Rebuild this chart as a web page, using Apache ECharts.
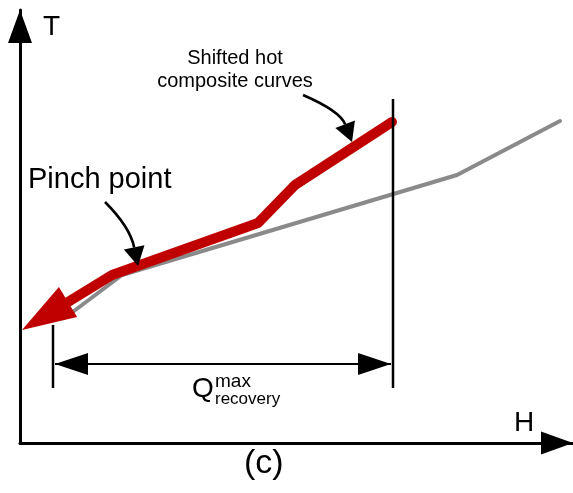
<!DOCTYPE html>
<html><head><meta charset="utf-8">
<script src="https://cdn.jsdelivr.net/npm/echarts@6/dist/echarts.min.js"></script>
<style>html,body{margin:0;padding:0;background:#fff}#c{width:573px;height:493px}</style>
</head><body><div id="c"></div>
<script>
// Axis domains (enthalpy H, temperature T, arbitrary units)
const hRange = [0, 553];
const tRange = [0, 433];
// Cold composite curve (gray)
const coldH = [46, 102, 437, 540];
const coldT = [126, 168, 268, 322];
// Shifted hot composite curve (red), from arrowhead base to upper end
const hotH = [48, 92, 238, 275, 372];
const hotT = [141, 168, 220, 258, 321];
// Red arrowhead tip
const hotTipH = 2;
const hotTipT = 113;
// Q recovery dimension
const qSpanH = [33, 373];
const qLevelT = 79;
const qLeftTickT = [55, 118];
const qRightTickT = [55, 344];
// Annotation arrows: start, control, tip
const pinchArrowH = [85, 110, 118];
const pinchArrowT = [241, 216, 177];
const shiftArrowH = [283, 320, 332];
const shiftArrowT = [348, 332, 301];
// Texts
const labelPinch = 'Pinch point';
const labelShift = 'Shifted hot\ncomposite curves';
const axisNameT = 'T';
const axisNameH = 'H';
const figTag = '(c)';

const FONT = '"Liberation Sans", Arial, Helvetica, sans-serif';
const RED = '#c00000';
const GRAY = '#8a8a8a';

function head(tip, from, len, half) {
  const dx = tip[0] - from[0], dy = tip[1] - from[1];
  const d = Math.hypot(dx, dy), ux = dx / d, uy = dy / d;
  const L = len == null ? d : len;
  const bx = tip[0] - ux * L, by = tip[1] - uy * L;
  return { base: [bx, by], pts: [[tip[0], tip[1]], [bx - uy * half, by + ux * half], [bx + uy * half, by - ux * half]] };
}

function curvedArrow(api, H, T) {
  const p0 = api.coord([H[0], T[0]]);
  const c = api.coord([H[1], T[1]]);
  const tip = api.coord([H[2], T[2]]);
  const h = head(tip, c, 19, 10.5);
  return [
    { type: 'bezierCurve', shape: { x1: p0[0], y1: p0[1], cpx1: c[0], cpy1: c[1], x2: h.base[0], y2: h.base[1] },
      style: { stroke: '#000', lineWidth: 2.6, fill: null } },
    { type: 'polygon', shape: { points: h.pts }, style: { fill: '#000' } }
  ];
}

const chart = echarts.init(document.getElementById('c'), null, { renderer: 'canvas' });
chart.setOption({
  animation: false,
  backgroundColor: '#fff',
  title: {
    text: figTag, left: 244, top: 447, padding: 0,
    textStyle: { fontFamily: FONT, fontSize: 34, fontWeight: 'normal', color: '#000' }
  },
  grid: { left: 20, right: 0, top: 10, bottom: 50, containLabel: false },
  xAxis: {
    type: 'value', min: hRange[0], max: hRange[1],
    name: axisNameH, nameLocation: 'end', nameGap: -49,
    nameTextStyle: { fontFamily: FONT, fontSize: 28, color: '#000', align: 'center', verticalAlign: 'bottom', padding: [0, 0, 6, 0] },
    axisLine: { show: true, onZero: false, symbol: ['none', 'triangle'], symbolSize: [23, 32], symbolOffset: [0, -16],
      lineStyle: { color: '#000', width: 3 } },
    axisTick: { show: false }, axisLabel: { show: false }, splitLine: { show: false }
  },
  yAxis: {
    type: 'value', min: tRange[0], max: tRange[1],
    name: axisNameT, nameLocation: 'end', nameGap: -17,
    nameTextStyle: { fontFamily: FONT, fontSize: 28, color: '#000', align: 'left', verticalAlign: 'middle', padding: [0, 0, 0, 23] },
    axisLine: { show: true, onZero: false, symbol: ['none', 'triangle'], symbolSize: [24, 33], symbolOffset: [0, -16.5],
      lineStyle: { color: '#000', width: 3 } },
    axisTick: { show: false }, axisLabel: { show: false }, splitLine: { show: false }
  },
  series: [
    {
      name: 'Cold composite', type: 'line', z: 2,
      data: coldH.map((h, i) => [h, coldT[i]]),
      showSymbol: false, symbol: 'none', smooth: false,
      lineStyle: { color: GRAY, width: 4, cap: 'round', join: 'round' }
    },
    {
      name: 'Shifted hot composite', type: 'line', z: 3,
      data: hotH.map((h, i) => [h, hotT[i]]),
      showSymbol: false, symbol: 'none', smooth: false,
      lineStyle: { color: RED, width: 10, cap: 'round', join: 'round' }
    },
    {
      name: 'Hot arrowhead', type: 'custom', z: 4, clip: false,
      data: [[hotTipH, hotTipT]],
      renderItem: function (params, api) {
        const tip = api.coord([hotTipH, hotTipT]);
        const base = api.coord([hotH[0], hotT[0]]);
        const h = head(tip, base, null, 17.5);
        return { type: 'polygon', shape: { points: h.pts }, style: { fill: RED } };
      }
    },
    {
      name: 'Annotations', type: 'custom', z: 5, clip: false,
      data: [[qSpanH[0], qLevelT]],
      renderItem: function (params, api) {
        const children = [];
        // Q recovery dimension
        const l0 = api.coord([qSpanH[0], qLeftTickT[0]]), l1 = api.coord([qSpanH[0], qLeftTickT[1]]);
        const r0 = api.coord([qSpanH[1], qRightTickT[0]]), r1 = api.coord([qSpanH[1], qRightTickT[1]]);
        children.push({ type: 'line', shape: { x1: l0[0], y1: l0[1], x2: l1[0], y2: l1[1] }, style: { stroke: '#000', lineWidth: 2.5 } });
        children.push({ type: 'line', shape: { x1: r0[0], y1: r0[1], x2: r1[0], y2: r1[1] }, style: { stroke: '#000', lineWidth: 2.5 } });
        const a = api.coord([qSpanH[0], qLevelT]), b = api.coord([qSpanH[1], qLevelT]);
        a[0] += 2; b[0] -= 2;
        children.push({ type: 'line', shape: { x1: a[0], y1: a[1], x2: b[0], y2: b[1] }, style: { stroke: '#000', lineWidth: 2 } });
        const ha = head(a, b, 33, 11), hb = head(b, a, 33, 11);
        children.push({ type: 'polygon', shape: { points: ha.pts }, style: { fill: '#000' } });
        children.push({ type: 'polygon', shape: { points: hb.pts }, style: { fill: '#000' } });
        // Curved pointer arrows
        curvedArrow(api, pinchArrowH, pinchArrowT).forEach(c => children.push(c));
        curvedArrow(api, shiftArrowH, shiftArrowT).forEach(c => children.push(c));
        return { type: 'group', children: children };
      }
    }
  ],
  graphic: [
    { type: 'text', x: 28, y: 180, z: 10,
      style: { text: labelPinch, font: '29px ' + FONT, fill: '#000', align: 'left', verticalAlign: 'middle', textAlign: 'left', textVerticalAlign: 'middle' } },
    { type: 'text', x: 235, y: 47, z: 10,
      style: { text: labelShift, font: '20px ' + FONT, lineHeight: 23, fill: '#000', align: 'center', verticalAlign: 'top', textAlign: 'center', textVerticalAlign: 'top' } },
    { type: 'text', x: 192, y: 389, z: 10,
      style: { text: 'Q', font: '28px ' + FONT, fill: '#000', align: 'left', verticalAlign: 'middle', textAlign: 'left', textVerticalAlign: 'middle' } },
    { type: 'text', x: 215, y: 382, z: 10,
      style: { text: 'max', font: '19px ' + FONT, fill: '#000', align: 'left', verticalAlign: 'middle', textAlign: 'left', textVerticalAlign: 'middle' } },
    { type: 'text', x: 215, y: 399, z: 10,
      style: { text: 'recovery', font: '17px ' + FONT, fill: '#000', align: 'left', verticalAlign: 'middle', textAlign: 'left', textVerticalAlign: 'middle' } }
  ]
});
</script>
</body></html>
